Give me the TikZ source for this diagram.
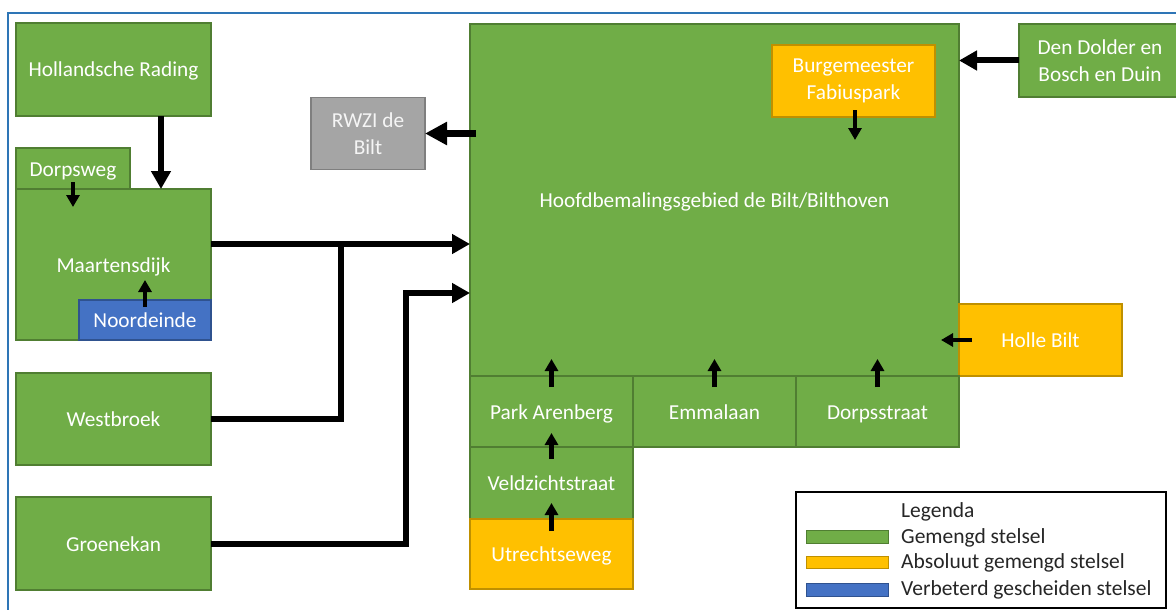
\documentclass[tikz,border=0pt]{standalone}
\usepackage{fontspec}
\setmainfont{Carlito}
\usetikzlibrary{arrows.meta}
\definecolor{grn}{HTML}{70AD47}
\definecolor{grnb}{HTML}{507E32}
\definecolor{org}{HTML}{FFC000}
\definecolor{orgb}{HTML}{BF9000}
\definecolor{blu}{HTML}{4472C4}
\definecolor{blub}{HTML}{2F528F}
\definecolor{gry}{HTML}{A5A5A5}
\definecolor{gryb}{HTML}{7F7F7F}
\definecolor{framec}{HTML}{2E75B6}
\definecolor{txtc}{HTML}{262626}
\tikzset{
  box/.style={draw, line width=1.3pt, inner sep=0pt, outer sep=0pt, text=white, align=center,
    font=\fontsize{21.3}{27}\selectfont},
  one/.style={text height=20pt, text depth=5pt},
  gbox/.style={box, fill=grn, draw=grnb},
  obox/.style={box, fill=org, draw=orgb},
  bbox/.style={box, fill=blu, draw=blub},
  rbox/.style={box, fill=gry, draw=gryb, text=white!92!gray},
  thk/.style={line width=6pt, -{Triangle[length=18pt,width=19pt]}},
  thkplain/.style={line width=6pt},
  thn/.style={line width=4.5pt, -{Triangle[length=12pt,width=13pt]}},
  legtxt/.style={anchor=west, inner sep=0pt, text=txtc, font=\fontsize{21.5}{24}\selectfont},
  swatch/.style={draw, line width=1pt, minimum width=82pt, minimum height=12.5pt, inner sep=0pt}
}
\begin{document}
\begin{tikzpicture}[x=1pt,y=-1pt]
\useasboundingbox (0,0) rectangle (1176,610);
\clip (0,0) rectangle (1176,610);
\fill[white] (0,0) rectangle (1176,610);
% outer frame
\draw[framec, line width=2pt] (8,615) -- (8,13) -- (1180,13);

% left column
\node[gbox, one, minimum width=195pt, minimum height=93pt] (hr) at (113.5,69.5) {Hollandsche Rading};
\node[gbox, one, minimum width=114pt, minimum height=41pt] (dw) at (73,168.5) {Dorpsweg};
\node[gbox, one, minimum width=195pt, minimum height=151pt] (md) at (113.5,264.5) {Maartensdijk};
\node[bbox, one, minimum width=132pt, minimum height=40pt] (nd) at (145,320) {Noordeinde};
\node[gbox, one, minimum width=195pt, minimum height=92pt] (wb) at (113.5,419) {Westbroek};
\node[gbox, one, minimum width=195pt, minimum height=93pt] (gk) at (113.5,543.5) {Groenekan};

% RWZI
\node[rbox, minimum width=114pt, minimum height=72pt] (rw) at (368,133.5) {RWZI de\\Bilt};

% main area
\node[gbox, one, minimum width=489pt, minimum height=352pt] (hb) at (714.5,200) {Hoofdbemalingsgebied de Bilt/Bilthoven};
\node[obox, minimum width=163pt, minimum height=72pt] (bf) at (853.5,81) {Burgemeester\\Fabiuspark};
\node[gbox, minimum width=162pt, minimum height=73pt] (dd) at (1100,60.5) {Den Dolder en\\Bosch en Duin};
\node[obox, one, minimum width=163pt, minimum height=72pt] (hob) at (1040.5,340) {Holle Bilt};
\node[gbox, one, minimum width=163pt, minimum height=71pt] (pa) at (551.5,411.5) {Park Arenberg};
\node[gbox, one, minimum width=163pt, minimum height=71pt] (em) at (714.5,411.5) {Emmalaan};
\node[gbox, one, minimum width=163pt, minimum height=71pt] (ds) at (877.5,411.5) {Dorpsstraat};
\node[gbox, one, minimum width=163pt, minimum height=72pt] (vz) at (551.5,483) {Veldzichtstraat};
\node[obox, one, minimum width=163pt, minimum height=70pt] (ut) at (551.5,554) {Utrechtseweg};

% connectors
\draw[thk] ([xshift=47.5pt]hr.south) -- ([xshift=47.5pt]md.north);
\draw[thn] ([yshift=7pt]dw.south) -- ([yshift=-18pt]dw.south);
\draw[thn] ([yshift=-7pt]nd.north) -- ([yshift=20pt]nd.north);
\coordinate (j1) at (341,244);
\coordinate (j2) at (406,293);
\draw[thkplain] (wb.east) -| (j1);
\draw[thk] ([yshift=20.5pt]md.east) -- ([yshift=-44pt]hb.west);
\draw[thkplain] (gk.east) -| (j2);
\draw[thk] ([xshift=-3pt]j2) -- ([yshift=-93pt]hb.west);
\draw[line width=7pt, -{Triangle[length=22pt,width=22pt]}] ([xshift=6pt,yshift=66.5pt]hb.west) -- (rw.east);
\draw[thk] (dd.west) -- ([yshift=139.5pt]hb.east);
\draw[thn] ([xshift=1.5pt,yshift=7pt]bf.south) -- ([xshift=1.5pt,yshift=-23pt]bf.south);
\draw[thn] ([xshift=13pt]hob.west) -- ([xshift=-18pt]hob.west);
\draw[thn] ([yshift=-11pt]pa.north) -- ([yshift=17pt]pa.north);
\draw[thn] ([yshift=-11pt]em.north) -- ([yshift=17pt]em.north);
\draw[thn] ([yshift=-11pt]ds.north) -- ([yshift=17pt]ds.north);
\draw[thn] ([yshift=-12pt]vz.north) -- ([yshift=14pt]vz.north);
\draw[thn] ([yshift=-12pt]ut.north) -- ([yshift=16pt]ut.north);

% legend
\node[draw=black, line width=1.3pt, fill=white, minimum width=370pt, minimum height=116pt, inner sep=0pt] (lg) at (981,550) {};
\node[legtxt] (lgt) at (901,512) {Legenda};
\node[swatch, fill=grn, draw=grnb] (s1) at (847,537) {};
\node[swatch, fill=org, draw=orgb] (s2) at (847,562.5) {};
\node[swatch, fill=blu, draw=blub] (s3) at (847,590) {};
\node[legtxt] (l1) at (901,537.5) {Gemengd stelsel};
\node[legtxt] (l2) at (901,563) {Absoluut gemengd stelsel};
\node[legtxt] (l3) at (901,589.5) {Verbeterd gescheiden stelsel};
\end{tikzpicture}
\end{document}
